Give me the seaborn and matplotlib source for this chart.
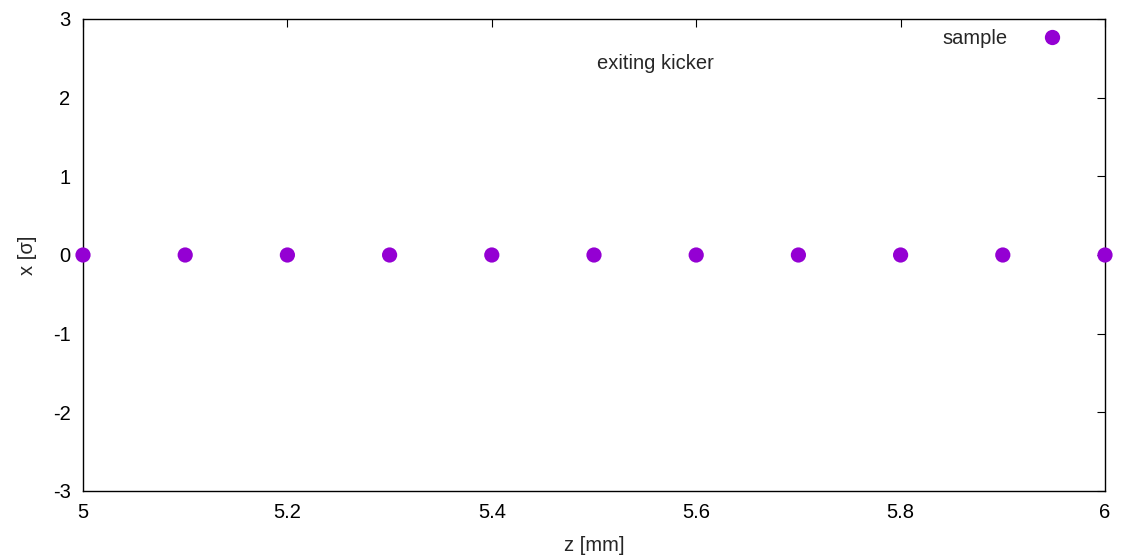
import matplotlib
matplotlib.use("Agg")
import matplotlib.pyplot as plt
import seaborn as sns
import pandas as pd

z_mm = [5.0, 5.1, 5.2, 5.3, 5.4, 5.5, 5.6, 5.7, 5.8, 5.9, 6.0]
x_sigma = [0, 0, 0, 0, 0, 0, 0, 0, 0, 0, 0]
x_ticks = [5, 5.2, 5.4, 5.6, 5.8, 6]
x_tick_labels = ["5", "5.2", "5.4", "5.6", "5.8", "6"]
y_ticks = [-3, -2, -1, 0, 1, 2, 3]
y_tick_labels = ["-3", "-2", "-1", "0", "1", "2", "3"]
series_name = "sample"
annotation = "exiting kicker"

sns.set_style("white")
plt.rcParams['font.family'] = ['Liberation Sans', 'DejaVu Sans']
plt.rcParams['axes.unicode_minus'] = False

FS = 14.5

df = pd.DataFrame({"z": z_mm, "x": x_sigma, "series": series_name})

fig = plt.figure(figsize=(11.24, 5.58), dpi=100)
ax = fig.add_axes([83/1124, 1 - 491/558, (1105-83)/1124, (491-19)/558])

sns.scatterplot(data=df, x="z", y="x", hue="series", palette=["#9400d3"],
                s=120, edgecolor="none", ax=ax, clip_on=False, zorder=3)

ax.set_xlim(5, 6)
ax.set_ylim(-3, 3)
ax.set_xticks(x_ticks)
ax.set_xticklabels(x_tick_labels)
ax.set_yticks(y_ticks)
ax.set_yticklabels(y_tick_labels)
ax.tick_params(direction="in", length=6, width=0.8, top=True, right=True,
               labelsize=FS, colors="black")
ax.tick_params(axis="x", pad=9, labeltop=False)
ax.tick_params(axis="y", pad=9, labelright=False)
for sp in ax.spines.values():
    sp.set_color("black")
    sp.set_linewidth(1.0)
    sp.set_visible(True)

ax.set_xlabel("z [mm]", fontsize=FS, labelpad=10)
ax.set_ylabel("x [σ]", fontsize=FS, labelpad=11)

ax.text(5.56, 2.43, annotation, fontsize=FS, ha="center", va="center")

leg = ax.legend(loc="upper right", frameon=False, markerfirst=False,
                fontsize=FS, handletextpad=1.2, handlelength=2.0,
                borderaxespad=0.0, borderpad=0.2,
                bbox_to_anchor=(0.972, 0.988))
for h in leg.legend_handles:
    if hasattr(h, "set_markersize"):
        h.set_markersize(11)

fig.savefig("out.png", dpi=100)
